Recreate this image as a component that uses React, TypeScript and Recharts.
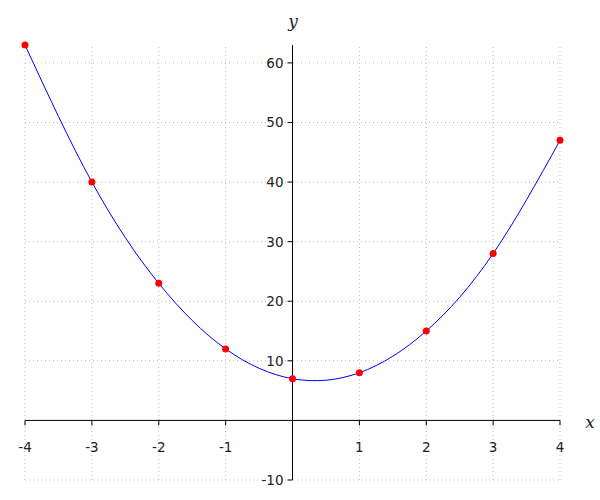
import {
  LineChart,
  Line,
  XAxis,
  YAxis,
  ReferenceLine,
  ReferenceDot,
} from 'recharts';

const xValues = [-4, -3, -2, -1, 0, 1, 2, 3, 4];
const yValues = [63, 40, 23, 12, 7, 8, 15, 28, 47];
const xTicks = [-4, -3, -2, -1, 0, 1, 2, 3, 4];
const yTicks = [-10, 0, 10, 20, 30, 40, 50, 60];
const xTickLabels = ['-4', '-3', '-2', '-1', '0', '1', '2', '3', '4'];
const yTickLabels = ['-10', '', '10', '20', '30', '40', '50', '60'];

const data = xValues.map((x, i) => ({ x, y: yValues[i] }));

const tickFont = { fontFamily: 'DejaVu Sans', fontSize: 13.5, fill: '#222' };
const axisLabelFont = { fontFamily: 'DejaVu Serif', fontStyle: 'italic', fontSize: 17, fill: '#222' };
const gridStyle = { stroke: '#bbb', strokeDasharray: '1 3', strokeWidth: 1 };

interface MarkProps {
  cx?: number;
  cy?: number;
}

function xTickShape(label: string) {
  return ({ cx = 0, cy = 0 }: MarkProps) => (
    <g>
      <line x1={cx} y1={cy} x2={cx} y2={cy + 5} stroke="#000" strokeWidth={1} />
      {label !== '0' && (
        <text x={cx} y={cy + 32} textAnchor="middle" {...tickFont}>
          {label}
        </text>
      )}
    </g>
  );
}

function yTickShape(label: string) {
  return ({ cx = 0, cy = 0 }: MarkProps) => (
    <g>
      {label !== '' && <line x1={cx - 5} y1={cy} x2={cx} y2={cy} stroke="#000" strokeWidth={1} />}
      {label !== '' && (
        <text x={cx - 9} y={cy + 5} textAnchor="end" {...tickFont}>
          {label}
        </text>
      )}
    </g>
  );
}

export default function App() {
  return (
    <div style={{ position: 'absolute', left: 0, top: 0, background: '#fff' }}>
      <svg width={600} height={500} style={{ position: 'absolute', left: 0, top: 0 }}>
        <text x={293} y={27} textAnchor="middle" {...axisLabelFont}>y</text>
        <text x={590} y={428} textAnchor="middle" {...axisLabelFont}>x</text>
      </svg>
      <LineChart
        width={600}
        height={500}
        data={data}
        margin={{ top: 45, right: 40, bottom: 20, left: 25 }}
      >
        <XAxis
          dataKey="x"
          type="number"
          domain={[-4, 4]}
          ticks={xTicks}
          tick={false}
          axisLine={false}
          tickLine={false}
          height={0}
        />
        <YAxis
          type="number"
          domain={[-10, 63]}
          ticks={yTicks}
          tick={false}
          axisLine={false}
          tickLine={false}
          width={0}
        />
        {xTicks.filter((t) => t !== 0).map((t) => (
          <ReferenceLine key={`gx${t}`} x={t} {...gridStyle} />
        ))}
        {yTicks.filter((t) => t !== 0).map((t) => (
          <ReferenceLine key={`gy${t}`} y={t} {...gridStyle} />
        ))}
        <ReferenceLine y={0} stroke="#000" strokeWidth={1} />
        <ReferenceLine x={0} stroke="#000" strokeWidth={1} />
        {xTicks.map((t, i) => (
          <ReferenceDot key={`xt${t}`} x={t} y={0} r={0} shape={xTickShape(xTickLabels[i])} />
        ))}
        {yTicks.map((t, i) => (
          <ReferenceDot key={`yt${t}`} x={0} y={t} r={0} shape={yTickShape(yTickLabels[i])} />
        ))}
        <Line
          type="natural"
          dataKey="y"
          stroke="#0000ff"
          strokeWidth={1}
          dot={{ fill: '#ff0000', stroke: 'none', r: 3.5 }}
          isAnimationActive={false}
        />
      </LineChart>
    </div>
  );
}
